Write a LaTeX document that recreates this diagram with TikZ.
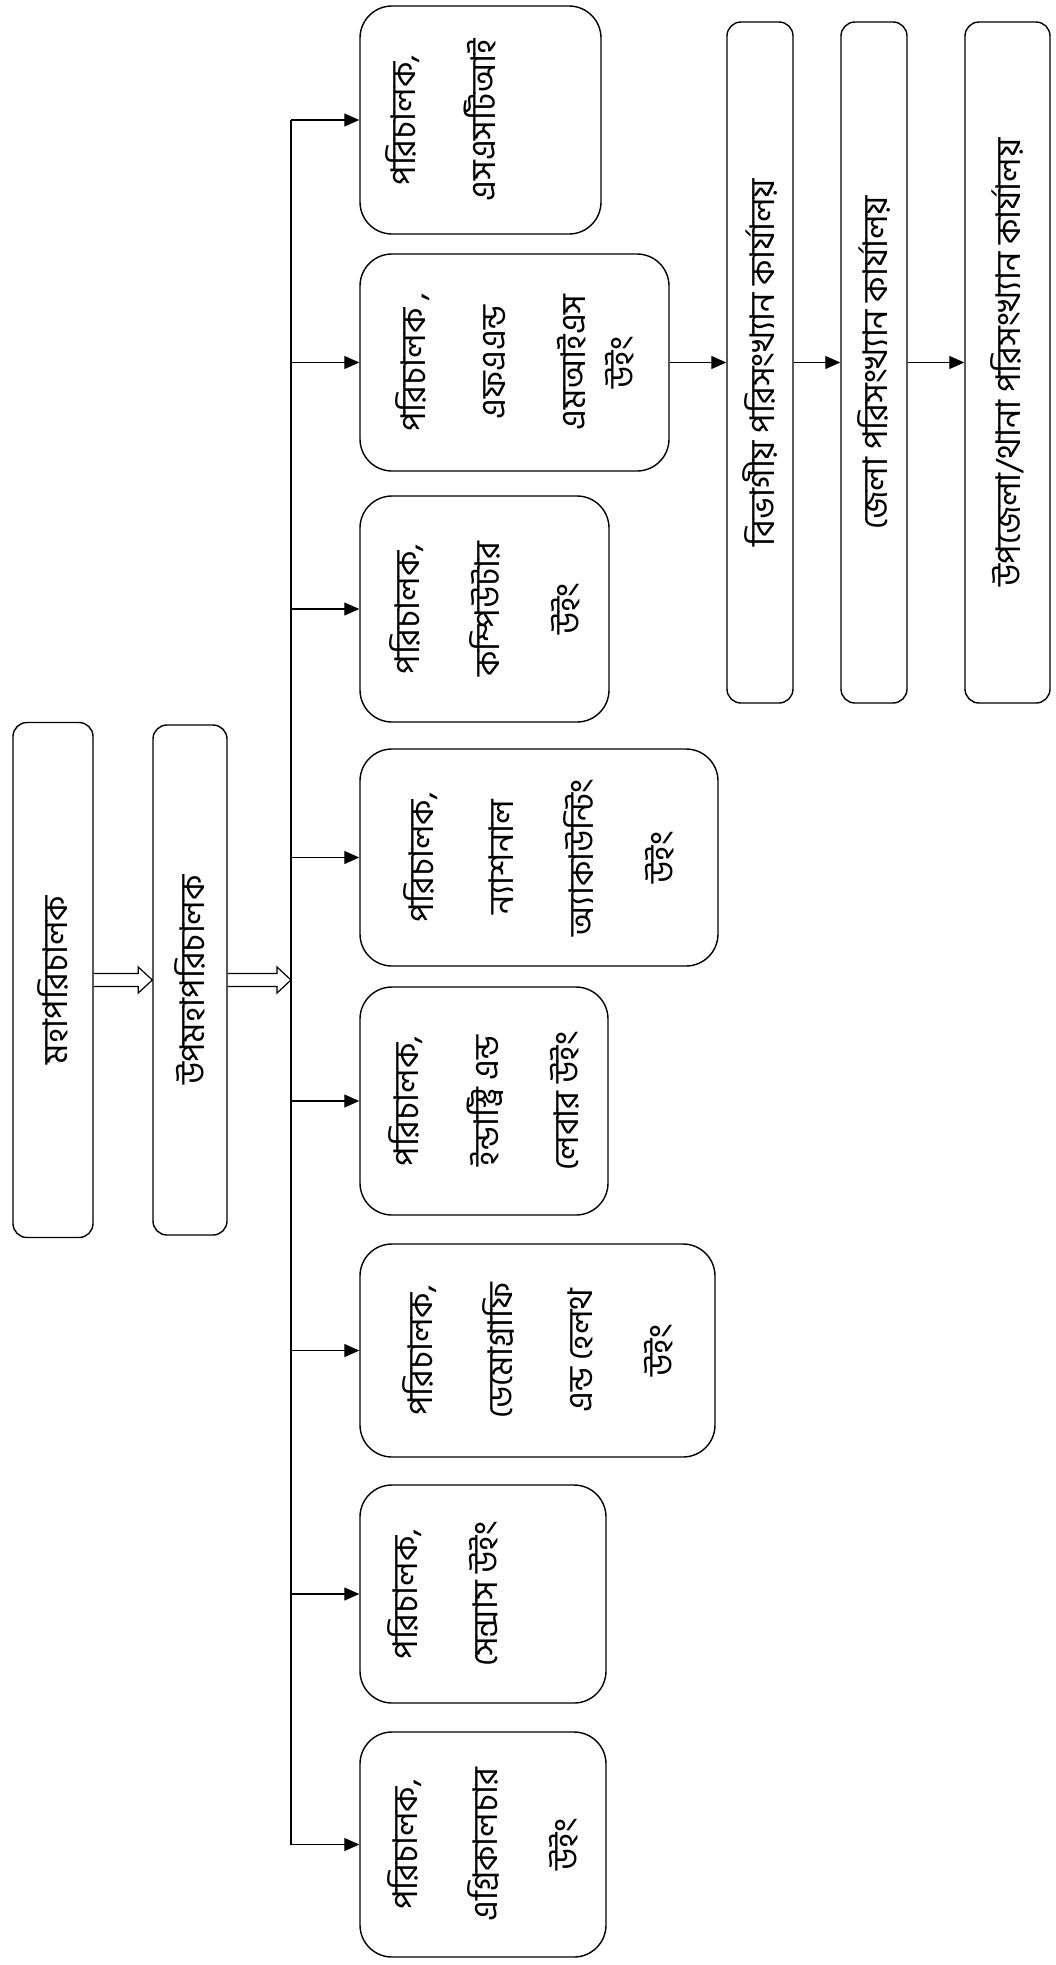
\documentclass[tikz,border=0pt]{standalone}
\usepackage{fontspec}
\setmainfont[Script=Bengali]{Hind Siliguri}
\usetikzlibrary{arrows.meta,calc}
\newcommand{\fatarrow}[2]{\draw[fat] ($(#1)+(0,-6.5)$) -- ($(#2)+(-14,-6.5)$) -- ($(#2)+(-14,-13)$) -- (#2) -- ($(#2)+(-14,13)$) -- ($(#2)+(-14,6.5)$) -- ($(#1)+(0,6.5)$);}

\begin{document}
\begin{tikzpicture}[x=1pt,y=-1pt,
block/.style={draw,line width=1.4pt,rectangle,rounded corners=14pt,rotate=90,align=center,inner sep=0pt,font=\fontsize{34}{80}\selectfont},
wing/.style={block,rounded corners=32pt},
arr/.style={line width=1.2pt,-{Triangle[length=15pt,width=13pt]}},
fat/.style={line width=1.2pt,line join=miter}]
\useasboundingbox (0,0) rectangle (1055,1965);

        \node [block, minimum width=515pt, minimum height=80pt] (A) at (53,980) {মহাপরিচালক};
        \node [block, minimum width=510pt, minimum height=74pt] (B) at (190,980) {উপমহাপরিচালক};
        \coordinate (bus) at (291,980);

        \node [wing, minimum width=228pt, minimum height=241pt] (C) at (480.5,120) {পরিচালক,\\এসএসটিআই\\{}};
        \node [wing, minimum width=217pt, minimum height=309pt] (D) at (514.5,362.5) {পরিচালক ,\\এফএএন্ড\\এমআইএস\\[-32pt]উইং};
        \node [wing, minimum width=226pt, minimum height=249pt] (E) at (484.5,609) {পরিচালক,\\কম্পিউটার\\উইং};
        \node [wing, minimum width=217pt, minimum height=358pt] (F) at (539,857.5) {পরিচালক,\\ন্যাশনাল\\অ্যাকাউন্টিং\\উইং};
        \node [wing, minimum width=228pt, minimum height=248pt] (G) at (484,1101) {পরিচালক,\\ইন্ডাস্ট্রি এন্ড\\লেবার উইং};
        \node [wing, minimum width=213pt, minimum height=355pt] (H) at (537.5,1350.5) {পরিচালক,\\ডেমোগ্রাফি\\এন্ড হেলথ\\উইং};
        \node [wing, minimum width=218pt, minimum height=246pt] (I) at (483,1594) {পরিচালক,\\সেন্সাস উইং\\{}};
        \node [wing, minimum width=225pt, minimum height=246pt] (J) at (483,1844.5) {পরিচালক,\\এগ্রিকালচার\\উইং};

        \node [block, minimum width=681pt, minimum height=66pt] (K) at (760,362.5) {বিভাগীয় পরিসংখ্যান কার্যালয়};
        \node [block, minimum width=681pt, minimum height=66pt] (L) at (874,362.5) {জেলা পরিসংখ্যান কার্যালয়};
        \node [block, minimum width=681pt, minimum height=85pt] (M) at (1007.5,362.5) {উপজেলা/থানা পরিসংখ্যান কার্যালয়};

        \fatarrow{A.south}{B.north}
        \fatarrow{B.south}{bus}
        \draw [line width=1.2pt] (bus |- C.north) -- (bus |- J.north);
        \foreach \n in {C,D,E,F,G,H,I,J}
            \draw [arr] (bus |- \n.north) -- (\n.north);
        \draw [arr] (D.south) -- (K.north);
        \draw [arr] (K.south) -- (L.north);
        \draw [arr] (L.south) -- (M.north);
    \end{tikzpicture}
\end{document}
